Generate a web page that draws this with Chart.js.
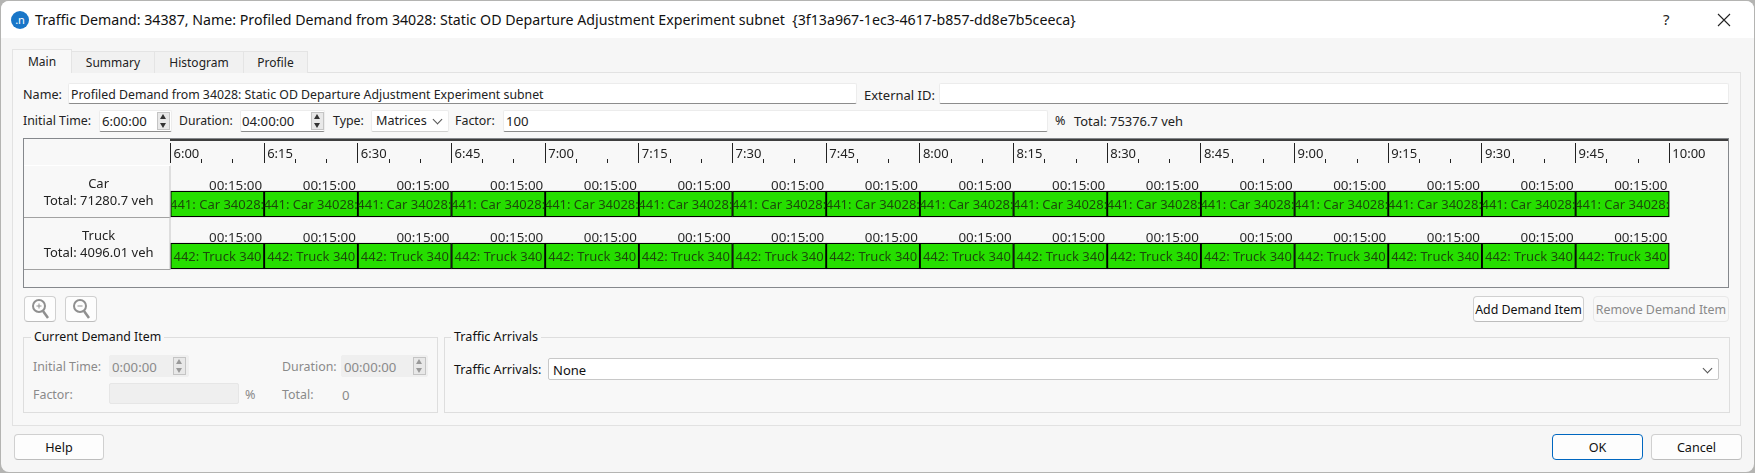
<!DOCTYPE html>
<html>
<head>
<meta charset="utf-8">
<title>Traffic Demand</title>
<script src="https://cdn.jsdelivr.net/npm/chart.js@4"></script>
<style>
html,body{margin:0;padding:0;width:1755px;height:473px;overflow:hidden;background:#b4b4b2;font-family:"Noto Sans",sans-serif;font-size:12.6px;color:#222}
#dlg{position:absolute;left:1px;top:1px;width:1753px;height:471px;background:#f6f6f6;border-radius:8px;overflow:hidden}
#page{position:absolute;left:0;top:0;width:1755px;height:473px}
.t{position:absolute;white-space:nowrap;transform:translateY(-50%);line-height:16px}
.g{color:#8a8a8a}
.n{font-size:13.2px}
.b{position:absolute;box-sizing:border-box}
.in{background:#fff;border:1px solid #ececec;border-bottom:1px solid #8c8c8c;border-radius:2px}
.dis{background:#efefef;border:1px solid #efefef;border-radius:2px}
.btn{background:#fdfdfd;border:1px solid #d0d0d0;border-bottom-color:#bdbdbd;border-radius:4px;text-align:center;line-height:25px}
.tab{background:#f1f1f1;border:1px solid #e4e4e4;border-bottom:none;text-align:center;line-height:21px;font-size:12px}
.grp{border:1px solid #dedede}
.lg{position:absolute;background:#f8f8f8;padding:0 3px;transform:translateY(-50%);white-space:nowrap;color:#111;line-height:16px}
.spin{position:absolute;width:13px;height:18px;box-sizing:border-box;border:1px solid #c4c4c4;background:#e8e8e8}
.spin:before,.spin:after{content:"";position:absolute;left:2px;border-left:3.5px solid transparent;border-right:3.5px solid transparent}
.spin:before{top:1px;border-bottom:5px solid #333}
.spin:after{bottom:1px;border-top:5px solid #333}
.spin.off:before{border-bottom-color:#999}
.spin.off:after{border-top-color:#999}
.chev{position:absolute;width:6px;height:6px;border-right:1px solid #555;border-bottom:1px solid #555;transform:rotate(45deg)}
#chartBox{position:absolute;left:23px;top:138px;width:1706px;height:150px;box-sizing:border-box;border:1px solid #85888c;background:#f8f8f8}
#chartWrap{position:absolute;left:0;top:0;width:1704px;height:148px}
</style>
</head>
<body>
<div id="page">
<div id="dlg"></div>
<div class="b" style="left:1px;top:1px;width:1753px;height:37px;background:#fff;border-radius:8px 8px 0 0"></div>

<svg class="b" style="left:11px;top:11px" width="18" height="18"><circle cx="9" cy="9" r="9" fill="#1976c8"/><text x="9" y="13" fill="#fff" font-size="11" font-family="Noto Sans" text-anchor="middle">.n</text></svg>
<div class="t" style="left:35px;top:20px;color:#111;font-size:14.2px">Traffic Demand: 34387, Name: Profiled Demand from 34028: Static OD Departure Adjustment Experiment subnet &nbsp;{3f13a967-1ec3-4617-b857-dd8e7b5ceeca}</div>
<div class="t" style="left:1663px;top:19px;color:#222;font-size:15px">?</div>
<svg class="b" style="left:1717px;top:13px" width="14" height="14"><path d="M1 1L13 13M13 1L1 13" stroke="#222" stroke-width="1.1"/></svg>

<div class="b" style="left:12px;top:72px;width:1729px;height:354px;background:#f8f8f8;border:1px solid #e2e2e2"></div>
<div class="b tab" style="left:71px;top:51px;width:84px;height:22px">Summary</div>
<div class="b tab" style="left:154px;top:51px;width:90px;height:22px">Histogram</div>
<div class="b tab" style="left:243px;top:51px;width:65px;height:22px">Profile</div>
<div class="b tab" style="left:12px;top:49px;width:60px;height:24px;background:#f8f8f8;line-height:23px">Main</div>

<div class="t" style="left:23px;top:95px">Name:</div>
<div class="b in" style="left:68px;top:83px;width:789px;height:21px"></div>
<div class="t" style="left:71px;top:95px;font-size:12.3px">Profiled Demand from 34028: Static OD Departure Adjustment Experiment subnet</div>
<div class="t" style="left:864px;top:95px;font-size:13px">External ID:</div>
<div class="b in" style="left:939px;top:83px;width:790px;height:21px"></div>

<div class="t" style="left:23px;top:121px;font-size:12.4px">Initial Time:</div>
<div class="b in" style="left:99px;top:110px;width:73px;height:22px"></div>
<div class="t n" style="left:102px;top:121px">6:00:00</div>
<div class="spin" style="left:157px;top:112px"></div>
<div class="t" style="left:179px;top:121px;font-size:12.2px">Duration:</div>
<div class="b in" style="left:240px;top:110px;width:85px;height:22px"></div>
<div class="t n" style="left:242px;top:121px">04:00:00</div>
<div class="spin" style="left:311px;top:112px"></div>
<div class="t" style="left:333px;top:121px;font-size:12.4px">Type:</div>
<div class="b in" style="left:371px;top:110px;width:78px;height:22px;border-bottom-color:#d0d0d0"></div>
<div class="t" style="left:376px;top:121px;font-size:12.6px">Matrices</div>
<div class="chev" style="left:434px;top:116px"></div>
<div class="t" style="left:455px;top:121px;font-size:12.4px">Factor:</div>
<div class="b in" style="left:503px;top:110px;width:545px;height:22px"></div>
<div class="t n" style="left:506px;top:121px">100</div>
<div class="t" style="left:1055px;top:121px">%</div>
<div class="t" style="left:1074px;top:121px;font-size:12.9px">Total: 75376.7 veh</div>

<div id="chartBox"><div id="chartWrap"><canvas id="demandChart"></canvas></div></div>

<div class="b btn" style="left:24px;top:296px;width:32px;height:26px"></div>
<div class="b btn" style="left:65px;top:296px;width:32px;height:26px"></div>
<svg class="b" style="left:30px;top:298px" width="20" height="22"><circle cx="9" cy="8" r="6" fill="none" stroke="#8f8f8f" stroke-width="2"/><path d="M13 13L18 20" stroke="#8f8f8f" stroke-width="2.5"/><path d="M6.5 8H11.5M9 5.5V10.5" stroke="#8f8f8f"/></svg>
<svg class="b" style="left:71px;top:298px" width="20" height="22"><circle cx="9" cy="8" r="6" fill="none" stroke="#8f8f8f" stroke-width="2"/><path d="M13 13L18 20" stroke="#8f8f8f" stroke-width="2.5"/><path d="M6.5 8H11.5" stroke="#8f8f8f"/></svg>
<div class="b btn" style="left:1473px;top:296px;width:111px;height:26px;color:#111;font-size:12.4px">Add Demand Item</div>
<div class="b btn g" style="left:1593px;top:296px;width:136px;height:26px;background:#f8f8f8;border-color:#e8e8e8;font-size:12.4px">Remove Demand Item</div>

<div class="b grp" style="left:23px;top:337px;width:415px;height:76px"></div>
<div class="lg" style="left:31px;top:337px;font-size:12.3px">Current Demand Item</div>
<div class="t g" style="left:33px;top:367px;font-size:12.4px">Initial Time:</div>
<div class="b dis" style="left:109px;top:355px;width:80px;height:22px"></div>
<div class="t g n" style="left:112px;top:367px">0:00:00</div>
<div class="spin off" style="left:173px;top:357px"></div>
<div class="t g" style="left:282px;top:367px;font-size:12.4px">Duration:</div>
<div class="b dis" style="left:341px;top:355px;width:87px;height:22px"></div>
<div class="t g n" style="left:344px;top:367px">00:00:00</div>
<div class="spin off" style="left:413px;top:357px"></div>
<div class="t g" style="left:33px;top:395px;font-size:12.4px">Factor:</div>
<div class="b dis" style="left:109px;top:383px;width:130px;height:21px;border-color:#e6e6e6"></div>
<div class="t g" style="left:245px;top:395px">%</div>
<div class="t g" style="left:282px;top:395px;font-size:12.4px">Total:</div>
<div class="t g n" style="left:342px;top:395px">0</div>

<div class="b grp" style="left:444px;top:337px;width:1286px;height:76px"></div>
<div class="lg" style="left:451px;top:337px;font-size:12.6px">Traffic Arrivals</div>
<div class="t" style="left:454px;top:370px;color:#111;font-size:12.6px">Traffic Arrivals:</div>
<div class="b in" style="left:548px;top:358px;width:1171px;height:22px;border-bottom-color:#b8b8b8;border-color:#c8c8c8"></div>
<div class="t" style="left:553px;top:370px;color:#111;font-size:13px">None</div>
<div class="chev" style="left:1704px;top:365px"></div>

<div class="b btn" style="left:14px;top:434px;width:90px;height:26px;color:#111">Help</div>
<div class="b btn" style="left:1552px;top:434px;width:91px;height:26px;color:#111;border:1px solid #0067c0">OK</div>
<div class="b btn" style="left:1651px;top:434px;width:91px;height:26px;color:#111">Cancel</div>
</div>

<script>
// Demand items per vehicle type, times are minutes after midnight
const rowNames = ['Car', 'Truck'];
const rowTotals = ['71280.7', '4096.01'];
const slotStarts = [360, 375, 390, 405, 420, 435, 450, 465, 480, 495, 510, 525, 540, 555, 570, 585];
const slotEnds = [375, 390, 405, 420, 435, 450, 465, 480, 495, 510, 525, 540, 555, 570, 585, 600];
const slotDuration = '00:15:00';
const itemNames = ['441: Car 34028:', '442: Truck 340'];
const axisStart = 360;
const axisEnd = 609.4;
const lastTick = 600;

function clockLabel(mins) {
  let m = mins % 60;
  return Math.floor(mins / 60) + ':' + (m < 10 ? '0' + m : m);
}

function rowData(name) {
  return slotStarts.map((s, i) => ({ x: [s, slotEnds[i]], y: name }));
}

const font = '"Noto Sans", sans-serif';

// long and short tick marks plus the black line above them
const timeMarks = {
  id: 'timeMarks',
  afterDraw(chart) {
    let ctx = chart.ctx;
    let xs = chart.scales.x;
    ctx.save();
    ctx.strokeStyle = '#000';
    ctx.lineWidth = 1.5;
    ctx.beginPath();
    ctx.moveTo(xs.left - 0.5, 1);
    ctx.lineTo(chart.width, 1);
    ctx.stroke();
    ctx.lineWidth = 1;
    ctx.strokeStyle = '#222';
    ctx.beginPath();
    xs.ticks.forEach(t => {
      let px = Math.floor(xs.getPixelForValue(t.value)) + 0.5;
      ctx.moveTo(px, t.value % 15 === 0 ? 4 : 20);
      ctx.lineTo(px, 24);
    });
    ctx.stroke();
    ctx.restore();
  }
};

// row separators of the label column, level with the bottom of each row's bars
const rowLines = {
  id: 'rowLines',
  beforeDraw(chart) {
    let ys = chart.scales.y;
    let xs = chart.scales.x;
    let ctx = chart.ctx;
    ctx.save();
    ctx.strokeStyle = '#a2a2a2';
    ctx.beginPath();
    rowNames.forEach((n, i) => {
      let py = Math.round(ys.getPixelForValue(i) + 13) + 0.5;
      ctx.moveTo(0, py);
      ctx.lineTo(xs.left, py);
    });
    ctx.stroke();
    ctx.strokeStyle = '#c4c4c4';
    ctx.beginPath();
    ctx.moveTo(xs.left - 0.5, 26);
    ctx.lineTo(xs.left - 0.5, ys.getPixelForValue(1) + 13);
    ctx.stroke();
    ctx.strokeStyle = '#fff';
    ctx.beginPath();
    ctx.moveTo(0, 26.5);
    ctx.lineTo(xs.left, 26.5);
    ctx.stroke();
    ctx.restore();
  }
};

// text on and above each demand item
const itemText = {
  id: 'itemText',
  afterDatasetsDraw(chart) {
    let ctx = chart.ctx;
    ctx.save();
    ctx.textBaseline = 'middle';
    chart.data.datasets.forEach((ds, d) => {
      chart.getDatasetMeta(d).data.forEach(bar => {
        let left = bar.base;
        let right = bar.x;
        ctx.font = '13.4px ' + font;
        ctx.fillStyle = '#2a2a2a';
        ctx.textAlign = 'right';
        ctx.fillText(slotDuration, right - 2, bar.y - 18);
        ctx.save();
        ctx.beginPath();
        ctx.rect(left + 0.5, bar.y - 12, right - left - 1, 24);
        ctx.clip();
        ctx.font = '13px ' + font;
        ctx.fillStyle = '#1c4a0a';
        ctx.textAlign = 'left';
        ctx.fillText(itemNames[d], left + (d === 0 ? -0.5 : 3), bar.y + 1);
        ctx.restore();
      });
    });
    ctx.restore();
  }
};

let ctx = document.getElementById('demandChart').getContext('2d');
let chart = new Chart(ctx, {
  type: 'bar',
  data: {
    labels: rowNames,
    datasets: rowNames.map(name => ({
      label: name,
      data: rowData(name),
      backgroundColor: '#26de00',
      borderColor: '#000',
      borderWidth: 1.3,
      borderSkipped: false,
      barThickness: 26,
      grouped: false
    }))
  },
  plugins: [rowLines, timeMarks, itemText],
  options: {
    indexAxis: 'y',
    responsive: true,
    maintainAspectRatio: false,
    animation: false,
    layout: { padding: { left: 0, right: 0, top: 0, bottom: 5 } },
    plugins: { legend: { display: false }, tooltip: { enabled: false } },
    scales: {
      x: {
        type: 'linear',
        position: 'top',
        min: axisStart,
        max: axisEnd,
        border: { display: false },
        grid: { display: false, drawTicks: false },
        afterFit(scale) { scale.height = 39; scale.paddingLeft = 0; scale.paddingRight = 0; },
        afterBuildTicks(scale) { scale.ticks = scale.ticks.filter(t => t.value <= lastTick); },
        ticks: {
          stepSize: 5,
          includeBounds: false,
          autoSkip: false,
          maxRotation: 0,
          align: 'start',
          labelOffset: 3,
          padding: 16,
          color: '#222',
          font: { family: font, size: 13 },
          callback: v => (v % 15 === 0 ? clockLabel(v) : '')
        }
      },
      y: {
        type: 'category',
        border: { display: false },
        grid: { display: false, drawTicks: false },
        afterFit(scale) { scale.width = 146.5; scale.paddingTop = 0; scale.paddingBottom = 0; },
        ticks: {
          crossAlign: 'center',
          labelOffset: -11,
          padding: 17,
          color: '#222',
          font: { family: font, size: 13, lineHeight: 1.27 },
          callback: (v, i) => [rowNames[i], 'Total: ' + rowTotals[i] + ' veh']
        }
      }
    }
  }
});
</script>
</body>
</html>
